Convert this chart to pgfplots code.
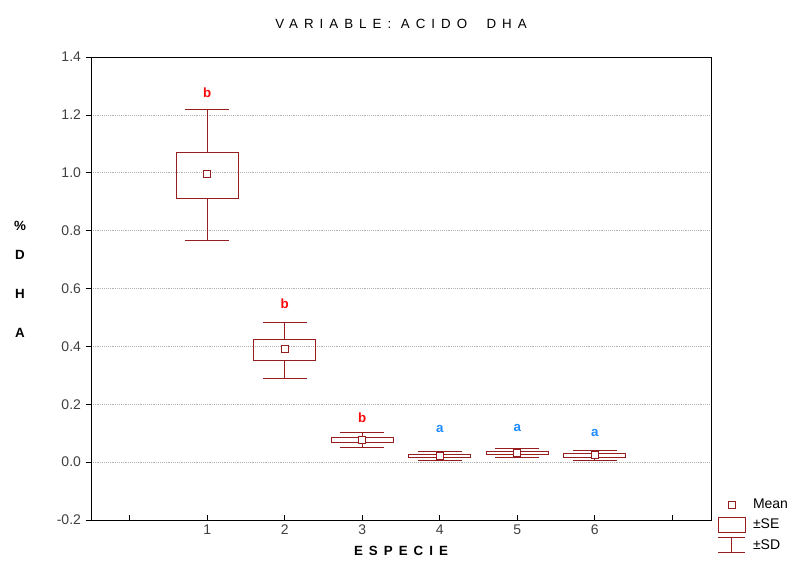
\documentclass[border=0pt]{standalone}
\usepackage{fontspec}
\setmainfont{Liberation Sans}
\newfontfamily\spaced[LetterSpace=45]{Liberation Sans}
\usepackage{pgfplots}
\pgfplotsset{compat=1.18}
\usepgfplotslibrary{statistics}

\definecolor{boxred}{RGB}{150,30,30}
\definecolor{lblred}{RGB}{250,10,10}
\definecolor{lblblue}{RGB}{30,140,255}

\pgfplotsset{
  dhabox/.style={draw=boxred, line width=0.8pt,
    boxplot/draw direction=y,
    boxplot/every median/.style={draw=none},
    boxplot/box extend=0.8, boxplot/whisker extend=0.57},
}

\begin{document}
\begin{tikzpicture}
\begin{axis}[
    scale only axis,
    width=465pt, height=347.25pt,
    xmin=-0.5, xmax=7.5,
    ymin=-0.2, ymax=1.4,
    xtick={0,1,2,3,4,5,6,7},
    xticklabels={,1,2,3,4,5,6,},
    ytick={-0.2,0,0.2,0.4,0.6,0.8,1.0,1.2,1.4},
    xtick pos=bottom, ytick pos=left,
    xtick align=inside, ytick align=outside,
    major tick length=4pt,
    ymajorgrids,
    grid style={densely dotted, black!30, line width=0.4pt},
    axis line style={line width=0.6pt},
    tick style={black, line width=0.5pt},
    ticklabel style={font=\fontsize{10.5}{12}\selectfont, text=black!75},
    yticklabel style={/pgf/number format/.cd, fixed, fixed zerofill, precision=1, assume math mode=true},
    title={\spaced VARIABLE:\ ACIDO\ \ DHA},
    title style={at={(0.5,1)}, anchor=center, yshift=19pt, font=\fontsize{10}{12}\selectfont},
    xlabel={\spaced\bfseries ESPECIE},
    xlabel style={at={(0.5,0)}, anchor=center, yshift=-23pt, font=\fontsize{10}{12}\selectfont},
    ylabel={\%\\[-7pt]D\\H\\A},
    ylabel style={rotate=-90, align=center, at={(-0.1145,0.52)}, anchor=center,
      font=\fontsize{10}{29.25}\selectfont\bfseries},
    legend style={at={(1,-0.011)}, anchor=west, xshift=5pt, draw=none, fill=none,
      font=\fontsize{10.5}{12}\selectfont, inner sep=0pt, row sep=3pt, column sep=4pt,
      nodes={inner sep=1.5pt}},
    legend cell align=left,
]
% boxes: whiskers = mean +/- SD, box = mean +/- SE
\addplot[dhabox, forget plot, boxplot prepared={draw position=1, median=0.995,
  lower quartile=0.911, upper quartile=1.070, lower whisker=0.766, upper whisker=1.219}] coordinates {};
\addplot[dhabox, forget plot, boxplot prepared={draw position=2, median=0.390,
  lower quartile=0.352, upper quartile=0.423, lower whisker=0.289, upper whisker=0.483}] coordinates {};
\addplot[dhabox, forget plot, boxplot prepared={draw position=3, median=0.077,
  lower quartile=0.068, upper quartile=0.085, lower whisker=0.050, upper whisker=0.102}] coordinates {};
\addplot[dhabox, forget plot, boxplot prepared={draw position=4, median=0.022,
  lower quartile=0.016, upper quartile=0.027, lower whisker=0.007, upper whisker=0.036}] coordinates {};
\addplot[dhabox, forget plot, boxplot prepared={draw position=5, median=0.032,
  lower quartile=0.025, upper quartile=0.037, lower whisker=0.017, upper whisker=0.046}] coordinates {};
\addplot[dhabox, forget plot, boxplot prepared={draw position=6, median=0.025,
  lower quartile=0.017, upper quartile=0.031, lower whisker=0.007, upper whisker=0.039}] coordinates {};

% means
\addplot[only marks, forget plot, mark=square*, mark size=2.6pt,
  mark options={draw=boxred, fill=white, line width=0.8pt}] coordinates {
  (1,0.995) (2,0.390) (3,0.077) (4,0.022) (5,0.032) (6,0.025)
};

% group letters
\node[text=lblred, font=\bfseries] at (axis cs:1,1.275) {b};
\node[text=lblred, font=\bfseries] at (axis cs:2,0.546) {b};
\node[text=lblred, font=\bfseries] at (axis cs:3,0.155) {b};
\node[text=lblblue, font=\bfseries] at (axis cs:4,0.116) {a};
\node[text=lblblue, font=\bfseries] at (axis cs:5,0.119) {a};
\node[text=lblblue, font=\bfseries] at (axis cs:6,0.100) {a};

% legend
\addlegendimage{legend image code/.code={
  \draw[boxred, line width=0.8pt, fill=white] (7.5pt,-2.8pt) rectangle (13pt,2.8pt);}}
\addlegendimage{legend image code/.code={
  \draw[boxred, line width=0.8pt] (0pt,-5.8pt) rectangle (20pt,5.8pt);}}
\addlegendimage{legend image code/.code={
  \draw[boxred, line width=0.8pt] (0pt,5.6pt) -- (20pt,5.6pt) (10pt,5.6pt) -- (10pt,-5.6pt)
    (0pt,-5.6pt) -- (20pt,-5.6pt);}}
\legend{Mean, ±SE, ±SD}
\end{axis}
\path ([shift={(-68.25pt,-35.25pt)}]current axis.south west)
  rectangle ([shift={(63.75pt,42.75pt)}]current axis.north east);
\end{tikzpicture}
\end{document}
